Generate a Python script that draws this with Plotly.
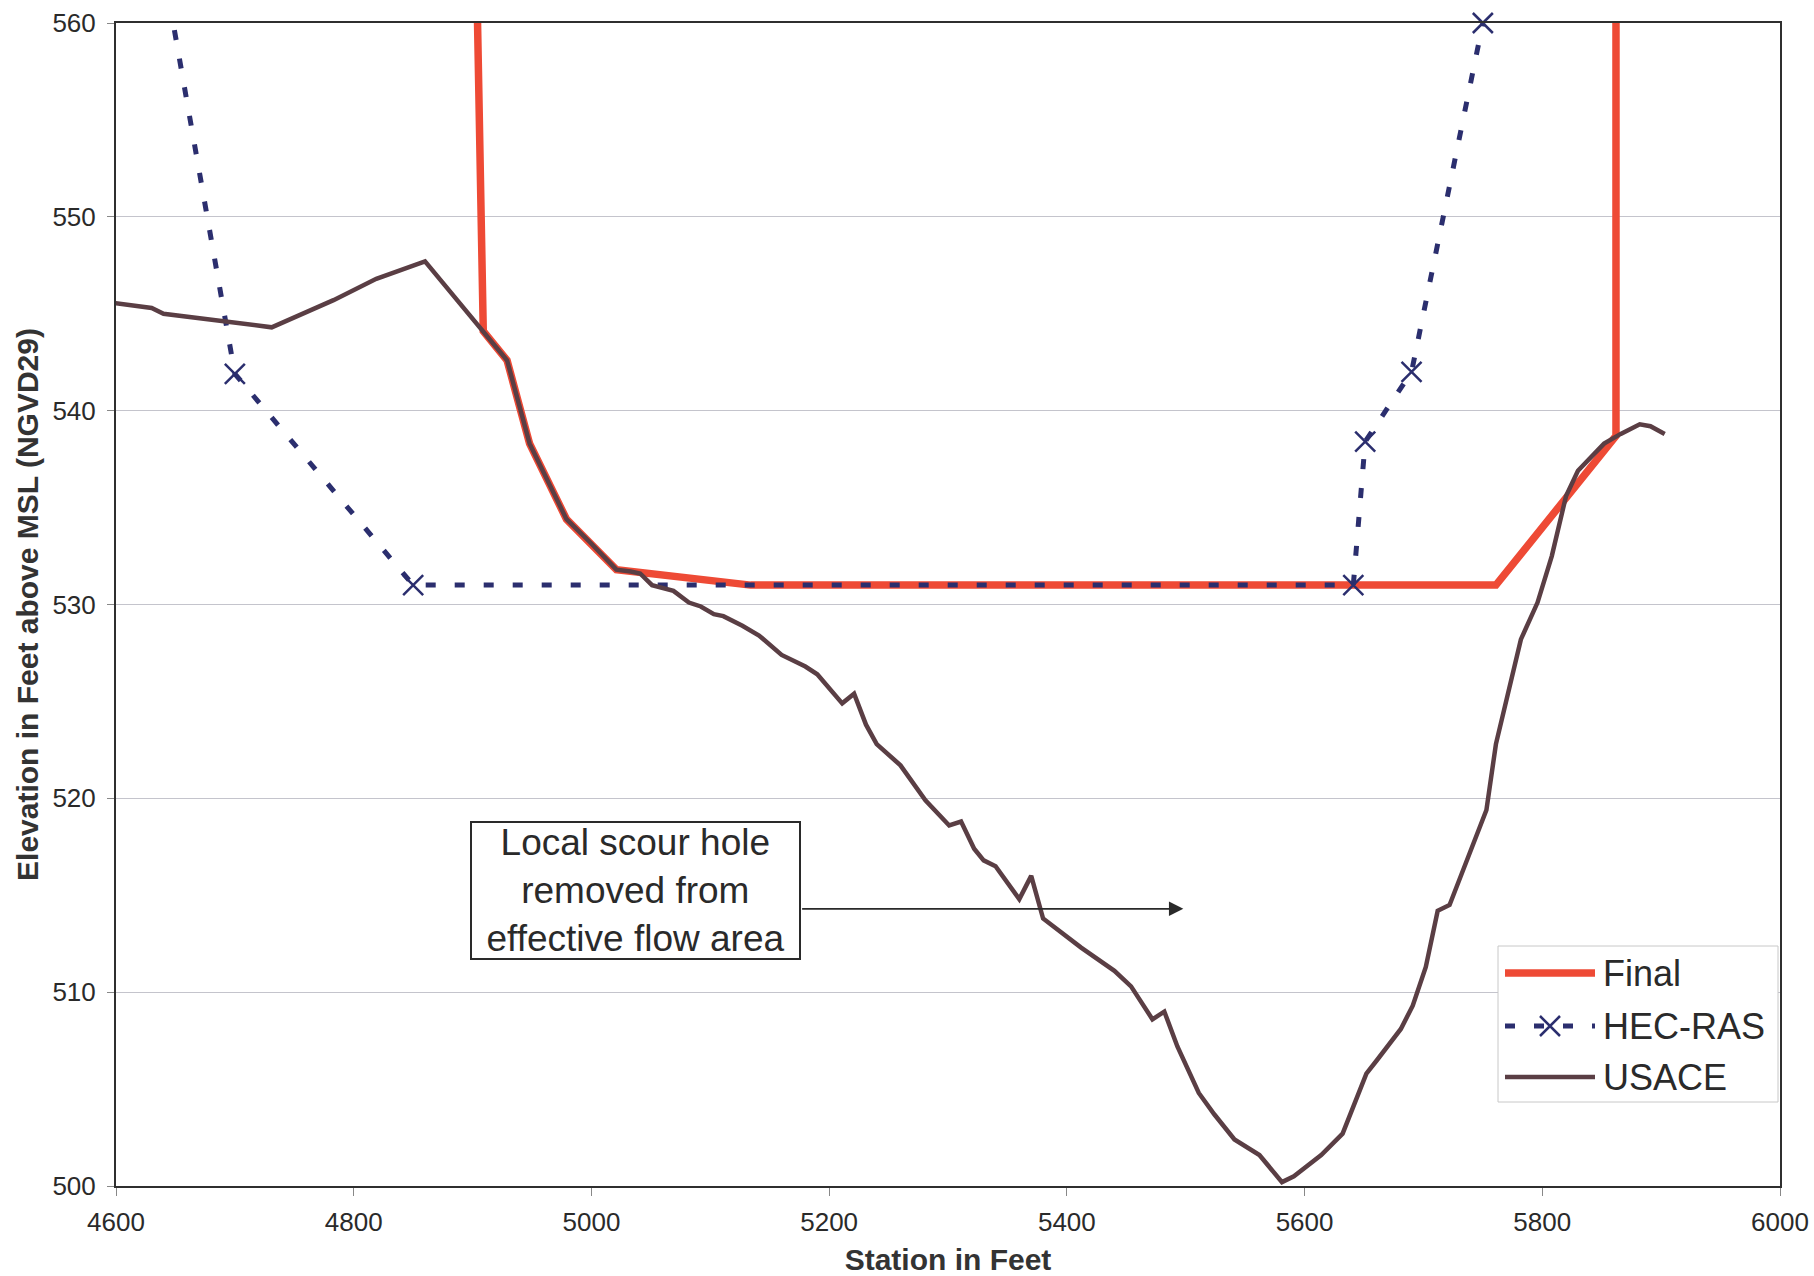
import plotly.graph_objects as go

# ---------------- data ----------------
usace_station = [4592, 4630, 4640, 4690, 4731, 4783, 4819, 4860, 4909, 4929, 4948, 4979,
                 4999, 5021, 5033, 5041, 5051, 5069, 5082, 5092, 5103, 5111, 5127, 5141,
                 5160, 5180, 5190, 5211, 5221, 5231, 5240, 5260, 5281, 5301, 5311, 5322,
                 5330, 5340, 5360, 5370, 5380, 5412, 5440, 5454, 5472, 5482, 5493, 5511,
                 5524, 5541, 5562, 5581, 5591, 5614, 5632, 5642, 5652, 5661, 5681, 5691,
                 5702, 5712, 5722, 5741, 5753, 5761, 5765, 5782, 5796, 5808, 5820, 5830,
                 5852, 5866, 5882, 5891, 5903]
usace_elev = [545.6, 545.3, 545.0, 544.6, 544.3, 545.7, 546.8, 547.7, 544.1, 542.6, 538.3, 534.4,
              533.2, 531.8, 531.7, 531.6, 531.0, 530.7, 530.1, 529.9, 529.5, 529.4, 528.9, 528.4,
              527.4, 526.8, 526.4, 524.9, 525.4, 523.8, 522.8, 521.7, 519.9, 518.6, 518.8, 517.4,
              516.8, 516.5, 514.8, 516.0, 513.8, 512.3, 511.1, 510.3, 508.6, 509.0, 507.2, 504.8,
              503.7, 502.4, 501.6, 500.2, 500.5, 501.6, 502.7, 504.2, 505.8, 506.5, 508.1, 509.3,
              511.3, 514.2, 514.5, 517.5, 519.4, 522.8, 523.8, 528.2, 530.1, 532.5, 535.6, 536.9,
              538.3, 538.8, 539.3, 539.2, 538.8]

final_station = [4904, 4909, 4929, 4948, 4979, 4999, 5021, 5134, 5761, 5862, 5862]
final_elev = [560.6, 544.1, 542.6, 538.3, 534.4, 533.2, 531.8, 531.0, 531.0, 538.7, 560.6]

hec_station = [4628, 4700, 4850, 5641, 5651, 5690, 5750]
hec_elev = [567.0, 541.9, 531.0, 531.0, 538.4, 542.0, 560.0]

series_names = ["Final", "HEC-RAS", "USACE"]
x_ticks = [4600, 4800, 5000, 5200, 5400, 5600, 5800, 6000]
y_ticks = [500, 510, 520, 530, 540, 550, 560]

note_text = "Local scour hole<br>removed from<br>effective flow area"
note_pos = (5037, 515.25)
arrow_tail = (5176, 514.3)
arrow_head = (5498, 514.3)

# ---------------- style ----------------
RED = "#EE4A35"
NAVY = "#2B2E6E"
BROWN = "#5A3E44"
FONT = "Liberation Sans, Arial, sans-serif"
TXT = "#2a2a2a"
W, H = 1814, 1276
L, R, T, B = 116, 34, 23, 90
pw, ph = W - L - R, H - T - B

def px(xp):
    return (xp - L) / pw

def py(yp):
    return (H - B - yp) / ph

fig = go.Figure()
fig.add_trace(go.Scatter(x=final_station, y=final_elev, mode="lines", name=series_names[0],
                         line=dict(color=RED, width=7.5), showlegend=False))
fig.add_trace(go.Scatter(x=hec_station, y=hec_elev, mode="lines+markers", name=series_names[1],
                         line=dict(color=NAVY, width=5, dash="10px,19px"),
                         marker=dict(symbol="x-thin", size=20, line=dict(color=NAVY, width=2.5)),
                         cliponaxis=False, showlegend=False))
fig.add_trace(go.Scatter(x=usace_station, y=usace_elev, mode="lines", name=series_names[2],
                         line=dict(color=BROWN, width=4.5), showlegend=False))

fig.update_layout(
    width=W, height=H,
    margin=dict(l=L, r=R, t=T, b=B, autoexpand=False),
    paper_bgcolor="white", plot_bgcolor="white",
    font=dict(family=FONT, color=TXT),
    xaxis=dict(range=[4600, 6000], tickvals=x_ticks, showgrid=False, zeroline=False,
               showline=True, mirror=True, linecolor="#2f2f2f", linewidth=2, automargin=False,
               ticks="outside", ticklen=8, tickcolor="#888", tickwidth=1,
               tickfont=dict(size=26, family=FONT, color=TXT), ticklabelstandoff=4,
               title=dict(text="<b>Station in Feet</b>", font=dict(size=30, family=FONT, color="#333"),
                          standoff=19)),
    yaxis=dict(range=[500, 560], tickvals=y_ticks, showgrid=True, gridcolor="#c4c4cc", gridwidth=1,
               zeroline=False, showline=True, mirror=True, linecolor="#2f2f2f", linewidth=2, automargin=False,
               ticks="outside", ticklen=7, tickcolor="#888", tickwidth=1,
               tickfont=dict(size=26, family=FONT, color=TXT), ticklabelstandoff=6,
               title=dict(text="<b>Elevation in Feet above MSL (NGVD29)</b>",
                          font=dict(size=30, family=FONT, color="#333"), standoff=5)),
)

# text box annotation
fig.add_annotation(x=note_pos[0], y=note_pos[1], xref="x", yref="y", text=note_text,
                   showarrow=False, font=dict(size=37, family=FONT, color=TXT),
                   align="center", width=327, height=135, bgcolor="white",
                   bordercolor="#2a2a2a", borderwidth=2, borderpad=0)
# arrow
fig.add_annotation(x=arrow_head[0], y=arrow_head[1], ax=arrow_tail[0], ay=arrow_tail[1],
                   xref="x", yref="y", axref="x", ayref="y", text="", showarrow=True,
                   arrowhead=2, arrowsize=1.6, arrowwidth=1.8, arrowcolor="#2a2a2a")

# manual legend
lx0, lx1, ly0, ly1 = 1498, 1778, 946, 1102
fig.add_shape(type="rect", xref="paper", yref="paper", x0=px(lx0), x1=px(lx1), y0=py(ly1), y1=py(ly0),
              line=dict(color="#c8c8c8", width=1), fillcolor="white", layer="above")
rows = [973, 1026, 1077]
sx0, sx1 = 1505, 1595
fig.add_shape(type="line", xref="paper", yref="paper", x0=px(sx0), x1=px(sx1), y0=py(rows[0]), y1=py(rows[0]),
              line=dict(color=RED, width=7.5), layer="above")
fig.add_shape(type="line", xref="paper", yref="paper", x0=px(sx0), x1=px(sx1), y0=py(rows[1]), y1=py(rows[1]),
              line=dict(color=NAVY, width=5, dash="10px,19px"), layer="above")
cx, cy, d = (sx0 + sx1) / 2, rows[1], 10
fig.add_shape(type="path", xref="paper", yref="paper",
              path=f"M {px(cx-d)},{py(cy-d)} L {px(cx+d)},{py(cy+d)} M {px(cx-d)},{py(cy+d)} L {px(cx+d)},{py(cy-d)}",
              line=dict(color=NAVY, width=2.5), layer="above")
fig.add_shape(type="line", xref="paper", yref="paper", x0=px(sx0), x1=px(sx1), y0=py(rows[2]), y1=py(rows[2]),
              line=dict(color=BROWN, width=4.5), layer="above")
for name, ry in zip(series_names, rows):
    fig.add_annotation(x=px(1601), y=py(ry), xref="paper", yref="paper", text=name, showarrow=False,
                       xanchor="left", yanchor="middle", font=dict(size=36, family=FONT, color=TXT))

fig.write_html("out.html", config={"displayModeBar": False},
               post_script="document.body.style.margin='0';document.body.style.overflow='hidden';")
